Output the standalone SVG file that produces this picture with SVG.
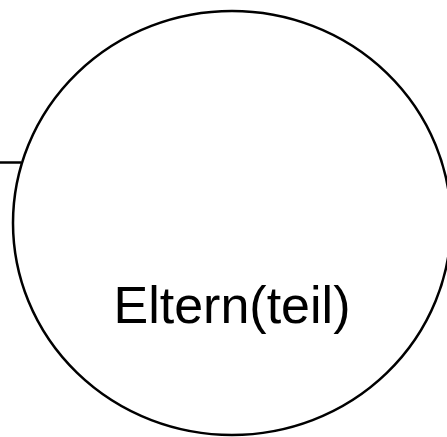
<svg xmlns="http://www.w3.org/2000/svg" width="447" height="437" viewBox="0 0 447 437">
<style>
.shape{fill:#fff;stroke:#000;stroke-width:2.5}
.lbl{font-family:"Liberation Sans",Arial,sans-serif;font-size:52px;fill:#000;text-anchor:middle}
.conn{stroke:#000;stroke-width:2.5;fill:none}
</style>
<rect width="447" height="437" fill="#fff"/>
<g id="connectors">
<line class="conn" x1="0" y1="162.5" x2="21" y2="162.5"/>
</g>
<g id="node-eltern">
<ellipse class="shape" cx="232" cy="223" rx="219" ry="212"/>
<text class="lbl" x="232" y="323">Eltern(teil)</text>
</g>
</svg>
